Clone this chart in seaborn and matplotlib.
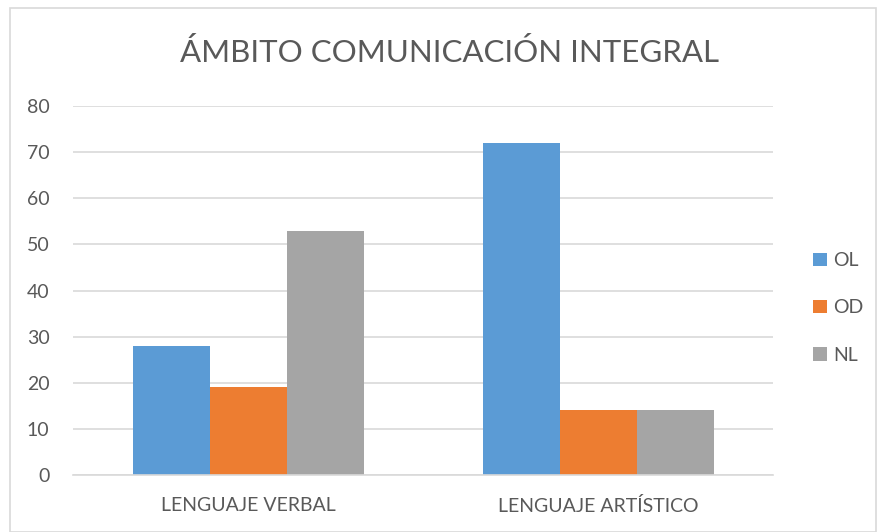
import pandas as pd
import numpy as np
import matplotlib.pyplot as plt
import matplotlib.patches as patches
import seaborn as sns

sns.set_style("white")
plt.rcParams['font.family'] = ['Lato', 'DejaVu Sans']

categories = ['LENGUAJE VERBAL', 'LENGUAJE ARTÍSTICO']
series = ['OL', 'OD', 'NL']
ol_values = [28, 72]
od_values = [19, 14]
nl_values = [53, 14]
colours = ['#5B9BD5', '#ED7D31', '#A5A5A5']
text_grey = '#595959'

df = pd.DataFrame({'categoria': categories * 3,
                   'serie': [s for s in series for _ in categories],
                   'valor': ol_values + od_values + nl_values})

fig = plt.figure(figsize=(8.77, 5.32), dpi=100)
ax = fig.add_axes([73/877, 1-475/532, 700/877, (475-106)/532])

sns.barplot(data=df, x='categoria', y='valor', hue='serie', order=categories,
            hue_order=series, palette=colours, width=0.66, saturation=1,
            errorbar=None, ax=ax, linewidth=0)

ax.set_ylim(0, 80)
ax.set_xlim(-0.5, 1.5)
ax.set_yticks(range(0, 81, 10))
ax.yaxis.grid(True, color='#D9D9D9', lw=1.2)
ax.set_axisbelow(True)
for s in ['top', 'right', 'left']:
    ax.spines[s].set_visible(False)
ax.spines['bottom'].set_color('#D9D9D9')
ax.spines['bottom'].set_linewidth(1.2)
ax.tick_params(axis='both', length=0, labelsize=14, colors=text_grey)
ax.tick_params(axis='x', pad=16)
ax.tick_params(axis='y', pad=17)
ax.set_xlabel('')
ax.set_ylabel('')

ax.legend(loc='center left', bbox_to_anchor=(1.057, 0.4526), frameon=False,
          borderaxespad=0, borderpad=0,
          fontsize=14, labelcolor=text_grey, handlelength=0.7, handleheight=0.7,
          handletextpad=0.35, labelspacing=1.55)

fig.text(0.513, 1-52/532, 'ÁMBITO COMUNICACIÓN INTEGRAL', ha='center', va='center',
         fontsize=22.5, color=text_grey)

fig.patches.append(patches.Rectangle((10/877, 0), 1-10/877-1/877, 1-8/532, transform=fig.transFigure,
                                     fill=False, edgecolor='#D9D9D9', lw=1.2))

fig.savefig('out.png', dpi=100)
